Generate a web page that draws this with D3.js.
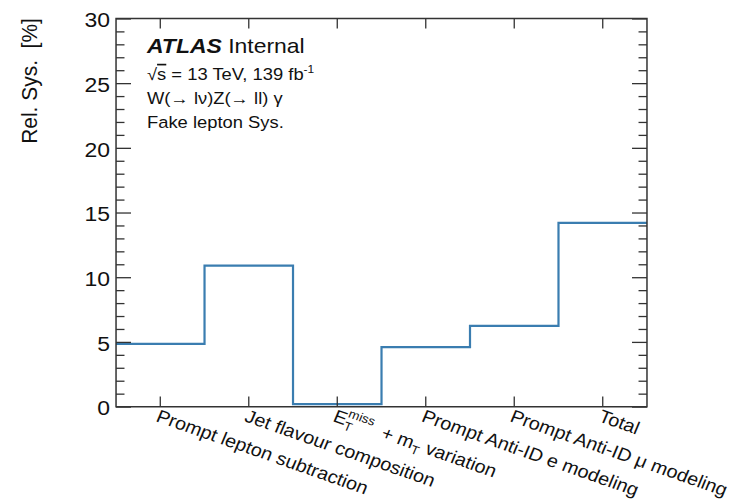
<!DOCTYPE html>
<html>
<head>
<meta charset="utf-8">
<script src="https://cdn.jsdelivr.net/npm/d3@7"></script>
<style>
html,body{margin:0;padding:0;background:#fff;}
svg{display:block;}
text{font-family:"Liberation Sans",Arial,Helvetica,sans-serif;fill:#111;}
</style>
</head>
<body>
<div id="chart"></div>
<script>
const categories = ["Prompt lepton subtraction", "Jet flavour composition", "ETMISS", "Prompt Anti-ID e modeling", "Prompt Anti-ID \u03bc modeling", "Total"];
const values = [4.85, 10.9, 0.2, 4.6, 6.25, 14.2];
const yMajorTicks = [0, 5, 10, 15, 20, 25, 30];
const yDomain = [0, 30];

(function(){
const W = 735, H = 503;       // window
const VW = 800, VH = 600;     // drawing coordinates (ROOT canvas)
const pL = 126.3, pR = 704.2, pT = 22.1, pB = 485.1;
const frameColor = "#333";
const lineColor = "#3a7db0";

const svg = d3.select("#chart").append("svg")
  .attr("width", W).attr("height", H)
  .attr("viewBox", `0 0 ${VW} ${VH}`)
  .attr("preserveAspectRatio", "none");

const x = d3.scaleBand().domain(categories).range([pL, pR]).paddingInner(0).paddingOuter(0);
const y = d3.scaleLinear().domain(yDomain).range([pB, pT]);

function nss(sel){ sel.selectAll("line,path").attr("vector-effect","non-scaling-stroke"); }

// Histogram step line
const pts = categories.map((c, i) => [x(c), values[i]]);
pts.push([x.range()[1], values[values.length - 1]]);
const line = d3.line().x(d => d[0]).y(d => y(d[1])).curve(d3.curveStepAfter);
svg.append("path").attr("d", line(pts))
  .attr("fill", "none").attr("stroke", lineColor).attr("stroke-width", 2.2)
  .attr("vector-effect", "non-scaling-stroke");

// Y axes
const yMinor = d3.range(0, 31, 1).filter(v => v % 5 !== 0);
const gL = svg.append("g").attr("transform", `translate(${pL},0)`)
  .call(d3.axisLeft(y).tickValues(yMajorTicks).tickSize(-16.3).tickPadding(6.5).tickFormat(d3.format("d")));
gL.select(".domain").remove();
gL.attr("font-family", null).attr("font-size", null);
gL.selectAll("text").attr("font-size", 25).attr("dy", "0.4em").attr("fill", "#111");
const gLm = svg.append("g").attr("transform", `translate(${pL},0)`)
  .call(d3.axisLeft(y).tickValues(yMinor).tickSize(-9.2).tickFormat(""));
gLm.select(".domain").remove();

const gR = svg.append("g").attr("transform", `translate(${pR},0)`)
  .call(d3.axisLeft(y).tickValues(yMajorTicks).tickSize(16.3).tickFormat(""));
gR.select(".domain").remove();
const gRm = svg.append("g").attr("transform", `translate(${pR},0)`)
  .call(d3.axisLeft(y).tickValues(yMinor).tickSize(9.2).tickFormat(""));
gRm.select(".domain").remove();

// X axes (ticks only)
const gB = svg.append("g").attr("transform", `translate(0,${pB})`)
  .call(d3.axisBottom(x).tickSize(-12).tickFormat(""));
gB.select(".domain").remove();
const gT = svg.append("g").attr("transform", `translate(0,${pT})`)
  .call(d3.axisTop(x).tickSize(-12).tickFormat(""));
gT.select(".domain").remove();

[gL, gLm, gR, gRm, gB, gT].forEach(g => { g.selectAll("line").attr("stroke", frameColor).attr("stroke-width", 1.3); nss(g); });

// Frame
svg.append("rect").attr("x", pL).attr("y", pT).attr("width", pR - pL).attr("height", pB - pT)
  .attr("fill", "none").attr("stroke", frameColor).attr("stroke-width", 1.5)
  .attr("vector-effect", "non-scaling-stroke");

// X labels (rotated)
const labFs = 21.5;
const xl = svg.append("g");
categories.forEach((c) => {
  const cx = x(c) + x.bandwidth() / 2;
  const t = xl.append("text")
    .attr("transform", `translate(${cx},${pB + 2}) rotate(21)`)
    .attr("font-size", labFs).attr("dy", "0.75em");
  if (c === "ETMISS") {
    t.append("tspan").text("E");
    t.append("tspan").attr("font-size", 14.5).attr("dy", 5).text("T");
    t.append("tspan").attr("font-size", 14.5).attr("dx", -9).attr("dy", -15.5).text("miss");
    t.append("tspan").attr("dy", 10.5).text("\u00a0 + m");
    t.append("tspan").attr("font-size", 14.5).attr("dy", 5).text("T");
    t.append("tspan").attr("dy", -5).text(" variation");
  } else {
    t.text(c);
  }
});

// Y title
svg.append("text")
  .attr("transform", `translate(40.3,${pT - 0.5}) rotate(-90)`)
  .attr("text-anchor", "end").attr("font-size", 25)
  .style("white-space", "pre")
  .text("Rel. Sys.  [%]");

// ATLAS label block
const tx = 160;
const t1 = svg.append("text").attr("x", tx).attr("y", 63.2).attr("font-size", 25);
t1.append("tspan").attr("font-weight", "bold").attr("font-style", "italic").text("ATLAS");
t1.append("tspan").text(" Internal");

const t2 = svg.append("text").attr("x", tx).attr("y", 95.4).attr("font-size", 20);
t2.append("tspan").text("\u221A");
t2.append("tspan").style("text-decoration", "overline").text("s");
t2.append("tspan").text(" = 13 TeV, 139 fb");
t2.append("tspan").attr("font-size", 13).attr("dy", -8).text("-1");

svg.append("text").attr("x", tx).attr("y", 124).attr("font-size", 20).text("W(\u2192 l\u03bd)Z(\u2192 ll) \u03b3");
svg.append("text").attr("x", tx).attr("y", 152.7).attr("font-size", 20).text("Fake lepton Sys.");
})();
</script>
</body>
</html>
